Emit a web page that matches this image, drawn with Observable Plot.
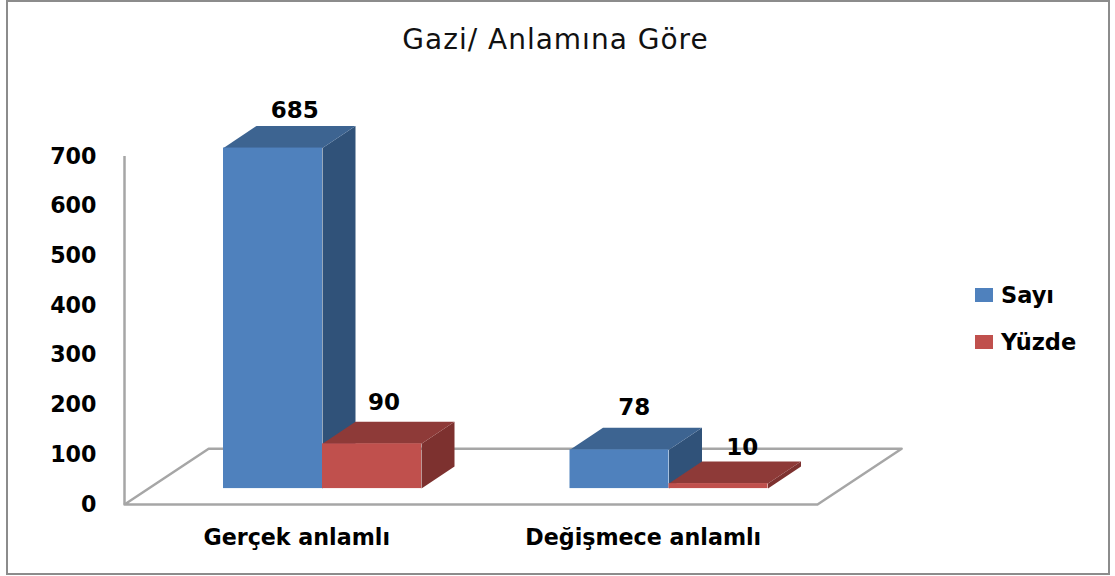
<!DOCTYPE html>
<html lang="tr">
<head>
<meta charset="utf-8">
<script src="https://cdn.jsdelivr.net/npm/d3@7"></script>
<script src="https://cdn.jsdelivr.net/npm/@observablehq/plot@0.6"></script>
<style>
  html, body { margin: 0; padding: 0; background: #fff; overflow: hidden; }
  #chart { position: relative; width: 1115px; height: 576px; font-family: "DejaVu Sans", sans-serif; }
  #chart svg { position: absolute; left: 0; top: 0; display: block; background: transparent; }
  #border { position: absolute; left: 6px; top: 0; width: 1100px; height: 571px; border: 2px solid #8c8c8c; }
  #title { position: absolute; left: 0; width: 1111px; top: 22px; text-align: center; font-size: 28px; letter-spacing: 1px; line-height: 36px; color: #111; }
  .item { position: absolute; left: 975px; height: 15px; }
  .item i { position: absolute; left: 0; top: 0; width: 18px; height: 14px; }
  .item span { position: absolute; left: 26px; top: -7px; font-size: 22.5px; line-height: 28px; font-weight: bold; color: #000; white-space: nowrap; }
</style>
</head>
<body>
<div id="chart">
  <div id="border"></div>
  <div id="title"></div>
</div>
<script>
const titleText = "Gazi/ Anlamına Göre";
const categories = ["Gerçek anlamlı", "Değişmece anlamlı"];
const seriesNames = ["Sayı", "Yüzde"];
const sayi = [685, 78];
const yuzde = [90, 10];
const yTicks = [0, 100, 200, 300, 400, 500, 600, 700];

const palette = {
  "Sayı":  {front: "#4f81bd", top: "#3d6491", side: "#305279"},
  "Yüzde": {front: "#c0504d", top: "#8e3a38", side: "#7d312f"}
};

// Pseudo-3D geometry, in scale units (x: one bar width = 1, y: chart value)
const slot = 3.5, gap = 1, xMax = 7;
const barDepthX = 1 / 3, barDepthY = 44.5;
const floorLiftY = 32, floorDepthX = 0.85, floorDepthY = 112;
const font = "DejaVu Sans, sans-serif";

const bars = categories.flatMap((c, i) => [sayi[i], yuzde[i]].map((v, j) => ({
  category: c, series: seriesNames[j], value: v,
  x1: gap + i * slot + j, x2: gap + i * slot + j + 1,
  y1: floorLiftY, y2: floorLiftY + v
})));

// value-label nudges relative to the top-back edge of each bar [x units, y units]
const labelNudge = [[0.72, 30], [0.62, 38], [0.65, 40], [0.74, 28]];

const floor = [
  [0, 0], [floorDepthX, floorDepthY], [xMax + floorDepthX, floorDepthY], [xMax, 0], [0, 0]
];

const barMarks = bars.flatMap(b => {
  const c = palette[b.series];
  const dx = barDepthX, dy = barDepthY;
  const top = [[b.x1, b.y2], [b.x1 + dx, b.y2 + dy], [b.x2 + dx, b.y2 + dy], [b.x2, b.y2]];
  const side = [[b.x2, b.y1], [b.x2, b.y2], [b.x2 + dx, b.y2 + dy], [b.x2 + dx, b.y1 + dy]];
  return [
    Plot.line(side, {fill: c.side, stroke: "none"}),
    Plot.line(top, {fill: c.top, stroke: "none"}),
    Plot.rect([b], {x1: "x1", x2: "x2", y1: "y1", y2: "y2", fill: c.front})
  ];
});

const svg = Plot.plot({
  width: 1115, height: 576,
  marginLeft: 124, marginRight: 298, marginTop: 156, marginBottom: 72,
  style: {background: "transparent", overflow: "visible"},
  x: {domain: [0, xMax]},
  y: {domain: [0, 700]},
  marks: [
    Plot.line(floor, {stroke: "#a6a6a6", strokeWidth: 2.5}),
    Plot.ruleX([0], {y1: 0, y2: 700, stroke: "#a6a6a6", strokeWidth: 2.5}),
    ...barMarks,
    Plot.text(bars, {
      x: (b, i) => b.x1 + labelNudge[i][0],
      y: (b, i) => b.y2 + barDepthY + labelNudge[i][1],
      text: "value", fontSize: 23, fontWeight: "bold", fontFamily: font, fill: "#000"
    }),
    Plot.axisY(yTicks, {
      anchor: "left", tickSize: 0, tickPadding: 28, label: null, dy: 0,
      fontSize: 22.2, fontWeight: "bold", fontFamily: font, fill: "#000"
    }),
    Plot.axisX(categories.map((c, i) => gap - 0.25 + 1 + i * slot), {
      anchor: "bottom", tickSize: 0, tickPadding: 33, label: null, lineAnchor: "middle", dx: -1,
      tickFormat: v => categories[Math.round((v - gap - 0.75) / slot)],
      fontSize: 22.2, fontWeight: "bold", fontFamily: font, fill: "#000"
    })
  ]
});

const chart = document.getElementById("chart");
chart.appendChild(svg);
document.getElementById("title").textContent = titleText;
seriesNames.forEach((name, i) => {
  const item = document.createElement("div");
  item.className = "item";
  item.style.top = (288 + i * 47) + "px";
  const sw = document.createElement("i");
  sw.style.background = palette[name].front;
  const label = document.createElement("span");
  label.textContent = name;
  item.append(sw, label);
  chart.appendChild(item);
});
</script>
</body>
</html>
